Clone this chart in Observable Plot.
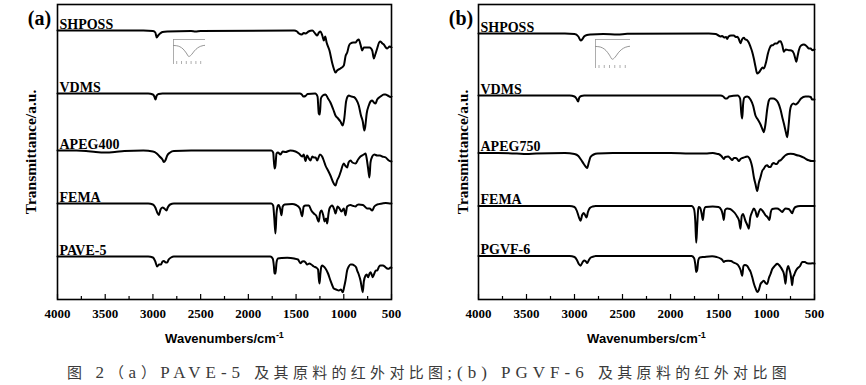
<!DOCTYPE html>
<html><head><meta charset="utf-8">
<script src="https://cdn.jsdelivr.net/npm/d3@7"></script>
<script src="https://cdn.jsdelivr.net/npm/@observablehq/plot@0.6"></script>
<style>
body{margin:0;background:#fff;}
#wrap{position:relative;width:866px;height:385px;overflow:hidden;background:#fff;}
.pan{position:absolute;top:0;}
.pan svg text{font-family:"Liberation Serif","Times New Roman",serif !important;font-weight:bold !important;fill:#000 !important;}
.pan svg text.xl{font-family:"Liberation Sans",Arial,sans-serif !important;}
.inset{position:absolute;}
#cap{position:absolute;left:67px;top:361px;color:#3a3a3a;white-space:nowrap;font-size:16px;}
#cap .cjk{font-family:"Noto Sans CJK SC",sans-serif;font-size:15px;letter-spacing:4.3px;}
#cap .lat{font-family:"Liberation Serif",serif;font-size:17px;letter-spacing:5px;}
</style></head>
<body><div id="wrap"></div>
<script>
// ---------- data ----------
const xTicks = [4000, 3500, 3000, 2500, 2000, 1500, 1000, 500];
const xMinor = [3750, 3250, 2750, 2250, 1750, 1250, 750];
const labelsA = ["SHPOSS", "VDMS", "APEG400", "FEMA", "PAVE-5"];
const offsetsA = [269, 206, 149, 96, 43];
const labelsB = ["SHPOSS", "VDMS", "APEG750", "FEMA", "PGVF-6"];
const offsetsB = [266, 204, 146.5, 93.5, 43.5];
const yLabel = "Transmittance/a.u.";
const xLabel = "Wavenumbers/cm";
const caption = "图 2（a）PAVE-5 及其原料的红外对比图;(b) PGVF-6 及其原料的红外对比图";

// spectra: [wavenumber, transmittance change relative to baseline]
const shpossA = [[4000,0],[3100,0],[3000,-0.5],[2975,-2],[2960,-7],[2945,-5],[2925,-3],[2900,-1.5],[2850,-1],[2600,-0.5],[2554,-1],[2500,-0.5],[1520,0],[1490,-1],[1470,-3],[1440,-4],[1420,-2.5],[1400,-3],[1370,-1],[1330,0],[1300,-3],[1279,-5],[1260,-2],[1244,-1],[1225,-5],[1209,-10],[1195,-6],[1180,-12],[1150,-20],[1120,-33],[1105,-38],[1087,-42],[1070,-40],[1035,-38],[1000,-35],[980,-25],[964,-22],[945,-15],[930,-13],[900,-12],[877,-12],[860,-10],[843,-9],[825,-14],[807,-20],[790,-17],[755,-17],[730,-17],[702,-20],[685,-28],[670,-24],[650,-18],[630,-12],[615,-11],[595,-13],[580,-14],[560,-17],[545,-18],[520,-16],[500,-17]];
const vdmsA = [[4000,0],[3050,0],[3000,-1],[2985,-3],[2973,-6],[2960,-2],[2940,-0.5],[2900,0],[1460,0],[1440,-1],[1422,-3],[1401,-2.5],[1380,-0.5],[1300,0],[1275,-3],[1262,-20],[1251,-21],[1240,-5],[1220,-2],[1192,-1],[1165,-5],[1140,-9],[1110,-16],[1087,-22],[1060,-25],[1035,-28],[1011,-32],[995,-25],[976,-8],[960,-3],[948,-2],[920,-3],[895,-3.5],[870,-6],[843,-12],[820,-22],[801,-28],[785,-37],[775,-33],[760,-20],[738,-12],[720,-8],[702,-7],[685,-9],[668,-10],[650,-6],[615,-3],[580,-1],[563,-1],[540,-2],[510,-3.5],[500,-3]];
const apeg400 = [[4000,0],[3800,0],[3700,-0.5],[3600,-1.5],[3500,-2],[3400,-1.5],[3300,-0.5],[3100,0],[3000,-1],[2960,-3],[2930,-6],[2900,-9],[2886,-11.5],[2870,-10],[2850,-5],[2820,-2],[2780,-0.5],[2600,0],[1760,0],[1740,-2],[1726,-18],[1716,-15],[1705,-3],[1690,-2],[1663,-4],[1640,-1],[1611,-1.5],[1560,0],[1506,-1],[1470,-3],[1436,-6],[1420,-4],[1401,-10.5],[1385,-5],[1366,-8],[1349,-10],[1330,-6],[1314,-7],[1295,-7],[1279,-10],[1250,-4],[1227,-6],[1210,-10],[1192,-15],[1165,-20],[1140,-25],[1105,-33],[1087,-35],[1070,-30],[1050,-26],[1035,-22],[1000,-13],[985,-15],[964,-17],[950,-12],[930,-10],[910,-12],[877,-13],[850,-9],[825,-6],[790,-4],[772,-3],[760,-8],[745,-18],[731,-27],[720,-12],[702,-6],[680,-4],[650,-5],[620,-5],[597,-6],[560,-7],[528,-10],[500,-11]];
const femaA = [[4000,0],[3050,0],[3000,-1],[2975,-4],[2955,-9],[2938,-11.5],[2920,-6],[2900,-4],[2880,-5],[2858,-7],[2845,-4],[2820,-1],[2780,0],[1760,0],[1740,-2],[1728,-15],[1716,-30],[1705,-10],[1690,-2],[1681,-1.5],[1665,-6],[1653,-11.7],[1640,-3],[1620,-1],[1541,-0.5],[1500,-1.5],[1460,-5],[1436,-12.7],[1420,-3],[1400,-2],[1366,-2],[1340,-7],[1314,-10],[1290,-12],[1262,-18],[1248,-9],[1234,-7],[1215,-12],[1202,-18],[1185,-15],[1174,-20],[1160,-10],[1150,-5],[1122,-2],[1100,-6],[1087,-10],[1065,-3],[1045,-5],[1024,-8],[1000,-5],[982,-11.7],[965,-3],[930,-1.5],[900,-2.5],[877,-3],[860,-1.5],[843,-1],[800,-1.5],[770,-4],[755,-5],[730,-5],[702,-7],[680,-3],[650,-1],[597,0],[560,0.5],[510,0],[500,0]];
const pave5 = [[4000,0],[3050,0],[3000,-1],[2975,-5],[2956,-10],[2935,-8],[2915,-8],[2900,-5],[2886,-4.5],[2865,-6],[2851,-6],[2835,-3],[2810,-1],[2780,0],[1770,0],[1745,-2],[1732,-10],[1726,-17],[1716,-17],[1705,-6],[1690,-2],[1650,-1.5],[1593,-1.3],[1520,-2],[1480,-3],[1454,-6.7],[1435,-5],[1419,-4.7],[1400,-6],[1384,-8],[1360,-7],[1340,-8],[1314,-10],[1290,-11],[1270,-13],[1262,-22],[1254,-27],[1245,-17],[1235,-10],[1227,-9],[1210,-10],[1192,-12],[1165,-17],[1140,-24],[1120,-29],[1105,-32],[1080,-33],[1052,-34],[1030,-33],[1011,-35.7],[995,-30],[982,-24],[965,-14],[948,-10],[930,-8],[912,-8],[890,-9],[870,-11],[860,-14],[843,-18],[825,-24],[810,-32],[801,-35.7],[790,-25],[772,-19],[760,-18],[745,-20.7],[730,-17],[720,-15.7],[708,-18],[696,-20.7],[680,-17],[665,-14],[650,-14],[630,-10],[615,-9],[590,-9],[563,-10.7],[545,-12],[528,-12.3],[510,-11],[500,-11.3]];

const shpossB = [[4000,0],[3100,0],[3000,-0.5],[2960,-3],[2935,-7],[2920,-6],[2900,-3],[2870,-1.5],[2830,-1],[2700,-0.5],[2550,-1],[2450,-0.3],[1600,0],[1530,-0.5],[1500,-2],[1480,-3],[1462,-2.5],[1440,-4],[1420,-3.5],[1410,-5.5],[1395,-3],[1370,-2],[1340,-2],[1320,-3.5],[1305,-3.3],[1290,-5],[1271,-9.7],[1255,-6],[1236,-4.3],[1220,-6],[1201,-6.7],[1185,-9],[1167,-13.3],[1150,-18],[1132,-25],[1115,-33],[1097,-40],[1080,-39],[1062,-36.7],[1040,-34],[1028,-35],[1003,-28],[985,-20],[969,-15],[950,-12],[934,-11.7],[910,-10],[889,-10],[870,-8],[854,-7.7],[835,-12],[819,-18.3],[800,-16],[767,-16.7],[740,-17],[715,-20],[700,-25],[690,-28.3],[675,-22],[663,-16.7],[640,-12],[611,-11],[590,-12],[575,-13.5],[559,-15],[540,-15],[524,-16.7],[500,-16]];
const vdmsB = [[4000,0],[3050,0],[3000,-1],[2980,-3],[2962,-6],[2950,-2],[2930,-0.5],[2900,0],[1480,0],[1450,-1],[1430,-3],[1410,-3],[1390,-1],[1300,0],[1275,-3],[1262,-18],[1253,-23],[1243,-8],[1230,-2],[1200,-1],[1167,-4],[1140,-10],[1115,-20],[1090,-24],[1062,-29],[1045,-33],[1028,-36.7],[1010,-28],[993,-14],[975,-5],[958,-3],[930,-3],[906,-4],[880,-7],[854,-14],[835,-22],[819,-28],[800,-36],[784,-41.7],[770,-30],[755,-15],[742,-10],[720,-8],[698,-9],[680,-8],[663,-6],[640,-3],[594,-1],[560,-1],[540,-1.5],[524,-4],[500,-4]];
const apeg750 = [[4000,0],[3800,0],[3600,-0.5],[3500,-1],[3400,-0.5],[3100,0],[3000,-1],[2960,-3],[2930,-7],[2903,-11],[2880,-14],[2868,-15],[2850,-9],[2833,-4],[2800,-1.5],[2760,-0.5],[2600,0],[2000,0],[1800,-0.5],[1700,-0.5],[1635,-0.5],[1560,0],[1531,-0.5],[1500,-1],[1470,-3],[1445,-6],[1430,-4],[1400,-3.5],[1380,-5],[1357,-7],[1340,-5],[1320,-5],[1305,-6],[1288,-8],[1270,-6],[1250,-5],[1219,-4],[1200,-3.5],[1180,-5],[1149,-14],[1130,-25],[1115,-31],[1097,-38],[1080,-30],[1062,-24],[1045,-18],[1028,-15.7],[1010,-13],[993,-12.3],[975,-14],[958,-14],[940,-11],[924,-10],[905,-11],[889,-10.7],[870,-8],[854,-7.3],[830,-5],[802,-2.3],[775,-1],[750,-0.7],[720,-1],[680,-2.3],[650,-3],[611,-4.7],[580,-6.5],[559,-7.3],[530,-8],[507,-8],[500,-8]];
const femaB = [[4000,0],[3050,0],[3000,-1],[2975,-5],[2955,-11],[2937,-14.7],[2920,-9],[2905,-7],[2890,-9],[2875,-11.5],[2860,-6],[2840,-2],[2810,-0.5],[2780,0],[1780,0],[1755,-3],[1742,-15],[1732,-36.7],[1722,-20],[1712,-4],[1705,-1],[1690,-2],[1675,-8],[1663,-14],[1650,-4],[1635,-1],[1560,-0.5],[1500,-1],[1470,-4],[1455,-9],[1445,-14],[1432,-4],[1410,-2.5],[1380,-3],[1357,-4.5],[1330,-7],[1305,-10.7],[1285,-15],[1271,-22.7],[1258,-10],[1245,-8],[1219,-15],[1200,-19],[1184,-22.7],[1170,-12],[1150,-6],[1132,-2.5],[1115,-5],[1097,-11],[1080,-6],[1062,-3],[1040,-5],[1010,-9.3],[990,-11],[969,-14],[955,-6],[940,-3],[910,-2.5],[889,-2.5],[860,-4],[837,-6],[820,-4],[800,-2.5],[770,-3],[750,-5],[733,-7.3],[715,-3],[698,-1],[650,0],[628,0],[560,0],[500,0]];
const pgvf6 = [[4000,0],[3050,0],[3000,-1],[2975,-4],[2955,-8],[2937,-9.7],[2920,-7],[2900,-4.5],[2885,-5],[2868,-7],[2850,-4],[2830,-1.5],[2800,-0.5],[2780,0],[1780,0],[1755,-2],[1742,-8],[1732,-16],[1722,-14],[1710,-4],[1695,-1.5],[1650,-1],[1566,-0.3],[1520,-1],[1480,-2.5],[1460,-4],[1445,-6],[1430,-5],[1400,-4.7],[1370,-5],[1340,-6.7],[1310,-8],[1290,-10],[1270,-14],[1253,-19.7],[1240,-10],[1225,-9],[1200,-10],[1184,-12.7],[1165,-16],[1149,-21],[1130,-28],[1115,-32],[1097,-36],[1080,-34],[1062,-28],[1045,-26],[1028,-24.7],[1010,-27],[993,-28],[975,-22],[958,-18],[940,-13],[924,-11],[905,-9],[889,-7.7],[870,-9],[854,-11],[835,-14],[819,-17.7],[810,-23],[802,-27.7],[790,-16],[774,-10],[760,-14],[750,-17.7],[740,-24],[733,-29.3],[722,-21],[712,-19],[700,-16],[680,-12.7],[650,-10],[628,-6],[600,-6],[576,-7.3],[550,-7.5],[524,-7.3],[500,-7.5]];

// small grey thumbnail inset (arbitrary units)
const insetX = [0, 1, 2, 3, 4, 4.8, 5.6, 6.5, 7.5, 8.5, 10];
const insetY = [7.6, 7.5, 7.1, 6.2, 4.6, 3.2, 3.9, 5.4, 6.6, 7.3, 7.7];
const insetTicks = [1, 2.5, 4, 5.5, 7, 8.5];

// ---------- drawing ----------
function panel(spectra, labels, offsets, tag, ml, mr, yDx, tagDx) {
  const rows = [];
  spectra.forEach((s, i) => s.forEach(([w, t]) => rows.push({w, t: offsets[i] + t, k: labels[i]})));
  const labs = labels.map((l, i) => ({l, w: 4000, t: offsets[i]}));
  const svg = Plot.plot({
    width: 433, height: 350,
    marginTop: 4, marginBottom: 51, marginLeft: ml, marginRight: mr,
    style: {background: "transparent", color: "#000"},
    x: {domain: [4000, 500], axis: null},
    y: {domain: [0, 295], axis: null},
    marks: [
      Plot.ruleX(xTicks, {x: d => d, insetTop: 290, stroke: "#000", strokeWidth: 1.2}),
      Plot.ruleX(xMinor, {x: d => d, insetTop: 292, stroke: "#000", strokeWidth: 1.2}),
      Plot.text(xTicks, {x: d => d, text: d => String(d), frameAnchor: "bottom", dy: 14, lineAnchor: "middle", textAnchor: "middle", fontSize: 13}),
      Plot.line(rows, {x: "w", y: "t", z: "k", stroke: "#000", strokeWidth: 2, curve: "monotone-x", strokeLinejoin: "round"}),
      Plot.text(labs, {x: "w", y: "t", text: "l", textAnchor: "start", lineAnchor: "middle", dx: 2, dy: -6, fontSize: 14}),
      Plot.frame({stroke: "#000", strokeWidth: 1.6}),
      Plot.text([yLabel], {frameAnchor: "left", rotate: -90, dx: yDx, textAnchor: "middle", lineAnchor: "middle", fontSize: 15.5}),
      Plot.text([tag], {frameAnchor: "top-left", dx: tagDx, dy: 14, fontSize: 20, textAnchor: "middle", lineAnchor: "middle"}),
      Plot.text([xLabel], {frameAnchor: "bottom", dy: 39, fontSize: 13, textAnchor: "middle", lineAnchor: "middle"})
    ]
  });
  svg.querySelectorAll("text").forEach(t => {
    if (t.textContent === xLabel) {
      t.classList.add("xl");
      const ts = document.createElementNS("http://www.w3.org/2000/svg", "tspan");
      ts.setAttribute("dy", "-5");
      ts.style.fontSize = "9px";
      ts.textContent = "-1";
      t.appendChild(ts);
    }
  });
  return svg;
}

function inset(w, h) {
  const pts = insetX.map((x, i) => ({x, y: insetY[i]}));
  return Plot.plot({
    width: w, height: h, margin: 0,
    x: {domain: [0, 10], axis: null}, y: {domain: [0, 10], axis: null},
    style: {background: "transparent"},
    marks: [
      Plot.frame({stroke: "#9a9a9a", strokeWidth: 0.8}),
      Plot.line(pts, {x: "x", y: "y", stroke: "#8a8a8a", strokeWidth: 0.9, curve: "monotone-x"}),
      Plot.ruleX(insetTicks, {x: d => d, insetTop: h - 3, stroke: "#9a9a9a", strokeWidth: 0.8})
    ]
  });
}

const wrap = document.getElementById("wrap");
const pa = document.createElement("div"); pa.className = "pan"; pa.style.left = "0px";
pa.appendChild(panel([shpossA, vdmsA, apeg400, femaA, pave5], labelsA, offsetsA, "(a)", 57, 42, -26, -18));
const pb = document.createElement("div"); pb.className = "pan"; pb.style.left = "433px";
pb.appendChild(panel([shpossB, vdmsB, apeg750, femaB, pgvf6], labelsB, offsetsB, "(b)", 45, 52, -15, -17.5));
wrap.appendChild(pa); wrap.appendChild(pb);

const ia = document.createElement("div"); ia.className = "inset"; ia.style.left = "173px"; ia.style.top = "39px";
ia.appendChild(inset(32, 25));
const ib = document.createElement("div"); ib.className = "inset"; ib.style.left = "595px"; ib.style.top = "39px";
ib.appendChild(inset(35, 29));
wrap.appendChild(ia); wrap.appendChild(ib);

// caption: split into CJK and Latin runs
const cap = document.createElement("div"); cap.id = "cap";
const runs = caption.match(/[\u3000-\u9fff\uff00-\uffef]+|[^\u3000-\u9fff\uff00-\uffef]+/g);
runs.forEach(r => {
  const s = document.createElement("span");
  s.className = /[\u3000-\u9fff\uff00-\uffef]/.test(r) ? "cjk" : "lat";
  s.textContent = r;
  cap.appendChild(s);
});
wrap.appendChild(cap);
</script></body></html>
